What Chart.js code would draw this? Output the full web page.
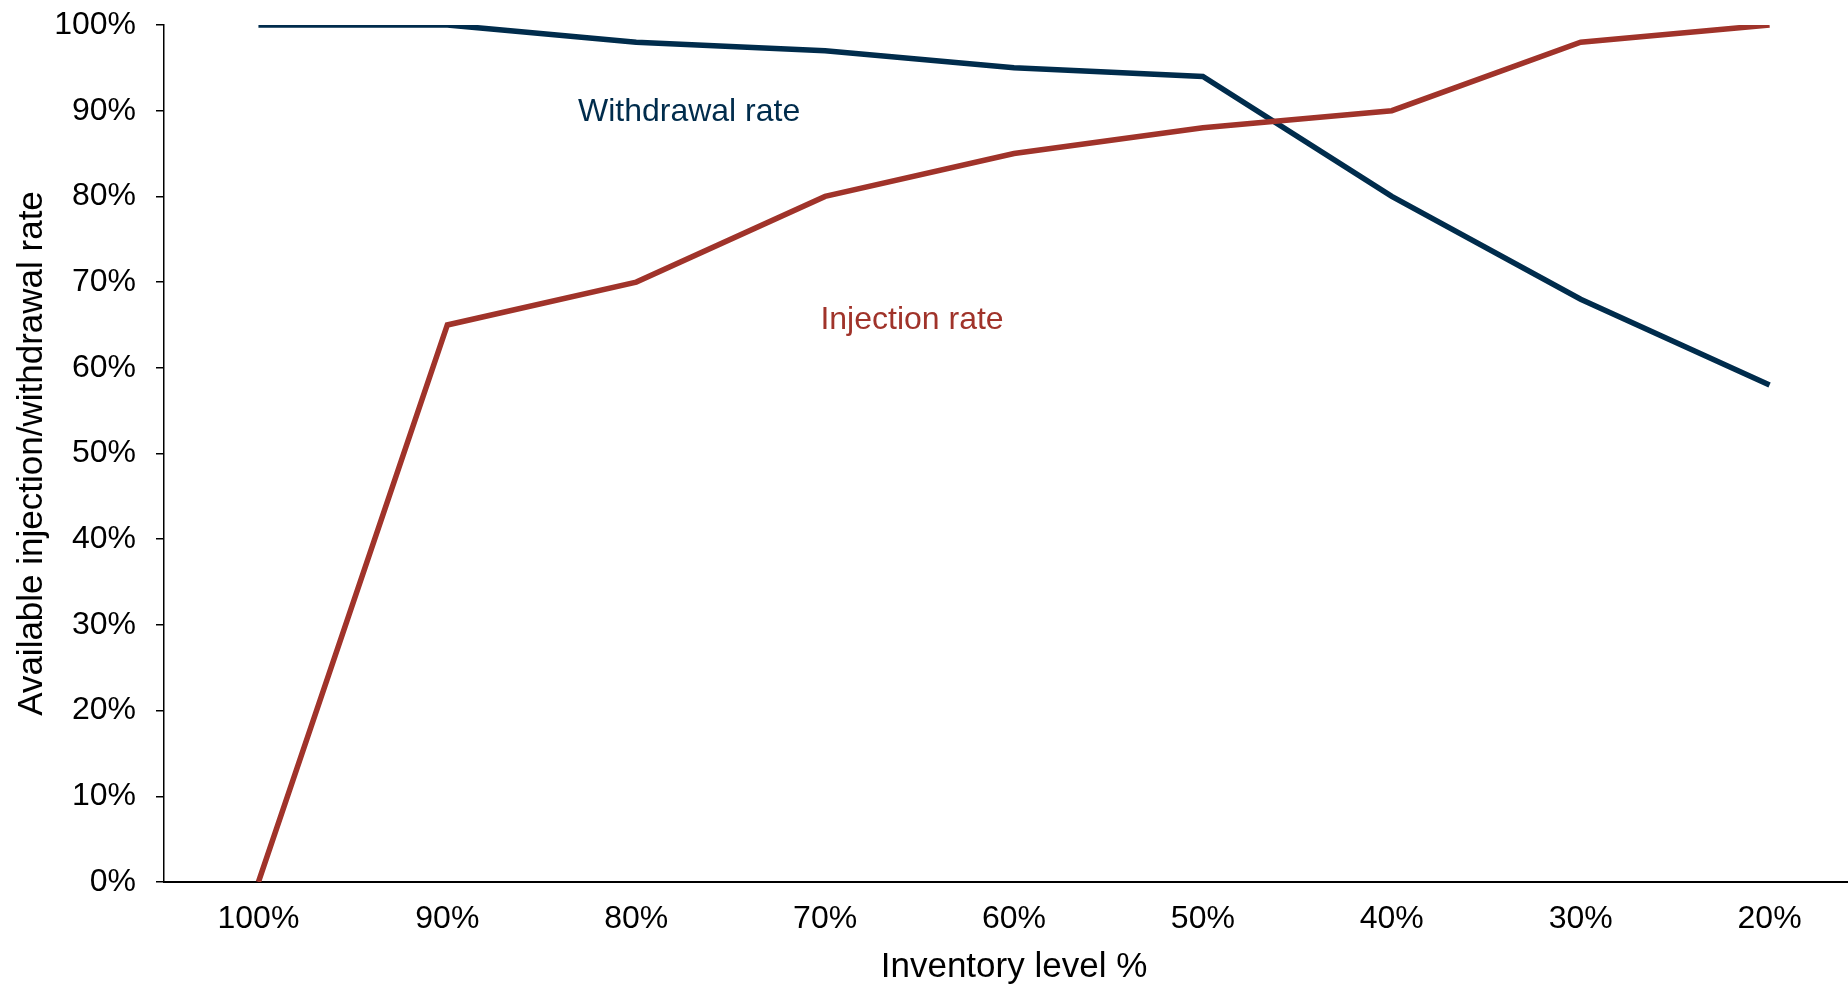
<!DOCTYPE html>
<html>
<head>
<meta charset="utf-8">
<script src="https://cdn.jsdelivr.net/npm/chart.js@4.4.0/dist/chart.umd.min.js"></script>
<style>
  html, body { margin: 0; padding: 0; background: #fff; overflow: hidden; }
  #wrap { width: 1848px; height: 985px; overflow: hidden; }
</style>
</head>
<body>
<div id="wrap"><canvas id="mycanvas" width="1866" height="985"></canvas></div>
<script>
var inventoryLevels = ['100%', '90%', '80%', '70%', '60%', '50%', '40%', '30%', '20%'];
var injectionRate = [0, 65, 70, 80, 85, 88, 90, 98, 100];
var withdrawalRate = [100, 100, 98, 97, 95, 94, 80, 68, 58];
var rateTicks = [0, 10, 20, 30, 40, 50, 60, 70, 80, 90, 100];

var injectionColor = '#a0332a';
var withdrawalColor = '#002c4c';

// in-chart series labels, placed in data units (x = category index, y = %)
var seriesLabels = [
	{ text: 'Withdrawal rate', x: 2.28, y: 89.8, color: withdrawalColor },
	{ text: 'Injection rate', x: 3.46, y: 65.6, color: injectionColor }
];

var fontFamily = '"Liberation Sans", Arial, sans-serif';

var labelPlugin = {
	id: 'seriesLabels',
	afterDatasetsDraw: function(chart) {
		var ctx = chart.ctx;
		ctx.save();
		ctx.font = '32px ' + fontFamily;
		ctx.textAlign = 'center';
		ctx.textBaseline = 'middle';
		for (var i in seriesLabels) {
			var l = seriesLabels[i];
			ctx.fillStyle = l.color;
			ctx.fillText(l.text, chart.scales.x.getPixelForValue(l.x), chart.scales.y.getPixelForValue(l.y));
		}
		ctx.restore();
	}
};

var chartdata = {
	labels: inventoryLevels,
	datasets: [
		{
			label: 'Injection rate',
			data: injectionRate,
			borderColor: injectionColor,
			backgroundColor: injectionColor,
			borderWidth: 5.5,
			pointRadius: 0,
			tension: 0,
			fill: false
		},
		{
			label: 'Withdrawal rate',
			data: withdrawalRate,
			borderColor: withdrawalColor,
			backgroundColor: withdrawalColor,
			borderWidth: 5.5,
			pointRadius: 0,
			tension: 0,
			fill: false
		}
	]
};

var ctx = document.getElementById('mycanvas');

var lineGraph = new Chart(ctx, {
	type: 'line',
	data: chartdata,
	plugins: [labelPlugin],
	options: {
		responsive: false,
		animation: false,
		layout: { padding: { top: 25, right: 2, left: 0, bottom: 0 } },
		plugins: {
			legend: { display: false },
			tooltip: { enabled: false }
		},
		scales: {
			x: {
				offset: true,
				grid: { display: false, drawTicks: false },
				border: { display: true, color: '#000', width: 2 },
				ticks: {
					color: '#000',
					padding: 18,
					maxRotation: 0,
					autoSkip: false,
					font: { family: fontFamily, size: 32 }
				},
				title: {
					display: true,
					text: 'Inventory level %',
					color: '#000',
					padding: 0,
					font: { family: fontFamily, size: 35, lineHeight: 1 }
				},
				afterFit: function(scale) { scale.height = 103; }
			},
			y: {
				min: 0,
				max: 100,
				afterBuildTicks: function(scale) {
					scale.ticks = rateTicks.map(function(v) { return { value: v }; });
				},
				grid: {
					display: true,
					drawOnChartArea: false,
					drawTicks: true,
					tickLength: 8,
					color: '#000',
					lineWidth: 1.5
				},
				border: { display: true, color: '#000', width: 1.5 },
				ticks: {
					color: '#000',
					padding: 20,
					font: { family: fontFamily, size: 32 },
					callback: function(v) { return v + '%'; }
				},
				title: {
					display: true,
					text: 'Available injection/withdrawal rate',
					color: '#000',
					padding: { top: 11, bottom: 0 },
					font: { family: fontFamily, size: 35 }
				},
				afterFit: function(scale) {
					scale.width = 164;
					scale.paddingTop = 0;
					scale.paddingBottom = 0;
				}
			}
		}
	}
});
</script>
</body>
</html>
